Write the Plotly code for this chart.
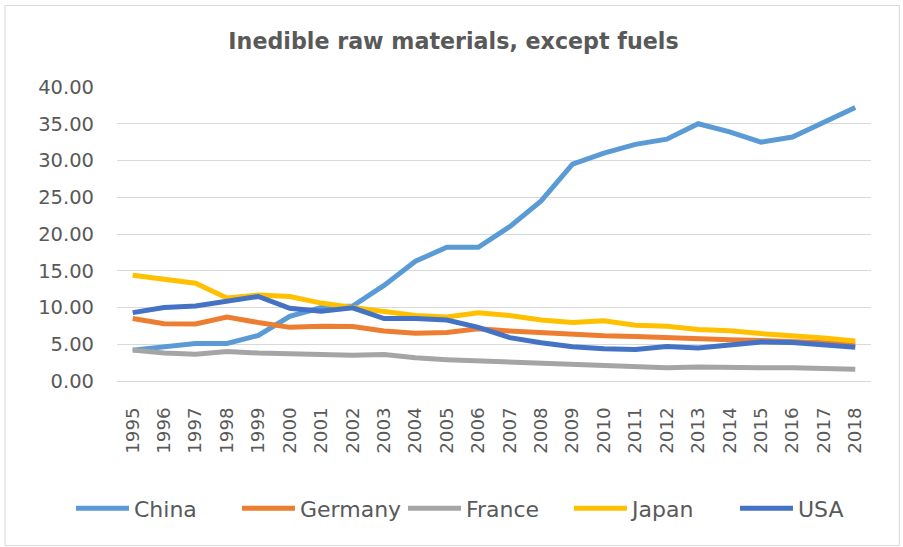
import plotly.graph_objects as go

years = [str(y) for y in range(1995, 2019)]

china = [4.2, 4.6, 5.1, 5.1, 6.2, 8.8, 10.0, 10.2, 13.0, 16.3, 18.2, 18.2,
         21.0, 24.5, 29.5, 31.0, 32.2, 32.9, 35.0, 33.9, 32.5, 33.2, 35.2, 37.2]
germany = [8.5, 7.8, 7.75, 8.7, 7.95, 7.3, 7.45, 7.4, 6.8, 6.5, 6.6, 7.1,
           6.8, 6.55, 6.4, 6.15, 6.05, 5.85, 5.7, 5.6, 5.5, 5.4, 5.2, 5.0]
france = [4.2, 3.8, 3.65, 4.0, 3.8, 3.65, 3.55, 3.5, 3.6, 3.15, 2.9, 2.75,
          2.6, 2.4, 2.3, 2.15, 1.95, 1.8, 1.9, 1.8, 1.8, 1.8, 1.7, 1.6]
japan = [14.4, 13.9, 13.3, 11.3, 11.7, 11.5, 10.6, 10.0, 9.4, 8.9, 8.7, 9.3,
         8.9, 8.3, 7.95, 8.2, 7.6, 7.45, 7.0, 6.85, 6.45, 6.2, 5.85, 5.45]
usa = [9.3, 10.0, 10.2, 10.9, 11.5, 9.9, 9.5, 9.95, 8.5, 8.5, 8.3, 7.3,
       5.9, 5.2, 4.65, 4.4, 4.3, 4.7, 4.5, 4.9, 5.3, 5.25, 4.95, 4.6]

series = [
    ("China", china, "#5B9BD5"),
    ("Germany", germany, "#ED7D31"),
    ("France", france, "#A5A5A5"),
    ("Japan", japan, "#FFC000"),
    ("USA", usa, "#4472C4"),
]

y_ticks = [0, 5, 10, 15, 20, 25, 30, 35, 40]

FONT = "DejaVu Sans"
TXT = "#595959"

fig = go.Figure()
for name, vals, color in series:
    fig.add_trace(go.Scatter(
        x=years, y=vals, name=name, mode="lines",
        line=dict(color=color, width=5, shape="linear"),
    ))

W, H = 903, 547
L, R, T, B = 117, 32.3, 87.3, 166.3
pw, ph = W - L - R, H - T - B

def px2x(p):
    return (p - L) / pw

def px2y(p):
    return (H - B - p) / ph

fig.update_layout(
    width=W, height=H,
    margin=dict(l=L, r=R, t=T, b=B, autoexpand=False),
    paper_bgcolor="white", plot_bgcolor="white",
    font=dict(family=FONT, color=TXT, size=19),
    title=dict(text="<b>Inedible raw materials, except fuels</b>",
               x=453.5 / W, xanchor="center", xref="container",
               y=1 - 41 / H, yanchor="middle", yref="container",
               font=dict(family=FONT, size=22.2, color=TXT)),
    xaxis=dict(type="category", range=[-0.5, 23.5], tickangle=-90,
               showgrid=False, showline=True, linecolor="#D9D9D9", linewidth=1,
               ticks="", ticklabelstandoff=18,
               tickfont=dict(family=FONT, size=18.3, color=TXT)),
    yaxis=dict(range=[0, 40], tickvals=y_ticks,
               ticktext=[f"{v:.2f}" for v in y_ticks],
               showgrid=True, gridcolor="#D9D9D9", gridwidth=1,
               zeroline=False, showline=False, ticks="",
               ticklabelstandoff=22,
               tickfont=dict(family=FONT, size=19.5, color=TXT)),
    legend=dict(orientation="h", x=px2x(71), xanchor="left", xref="paper",
                y=px2y(508), yanchor="middle",
                itemwidth=53, entrywidth=98, entrywidthmode="pixels",
                font=dict(family=FONT, size=22, color=TXT),
                bgcolor="rgba(0,0,0,0)"),
    shapes=[dict(type="rect", xref="paper", yref="paper",
                 x0=px2x(5), x1=px2x(899), y0=px2y(545), y1=px2y(6),
                 line=dict(color="#D9D9D9", width=1), layer="below")],
    showlegend=True,
)

fig.write_html("out.html", config={"displayModeBar": False},
               post_script="document.body.style.margin='0px';document.body.style.overflow='hidden';")
